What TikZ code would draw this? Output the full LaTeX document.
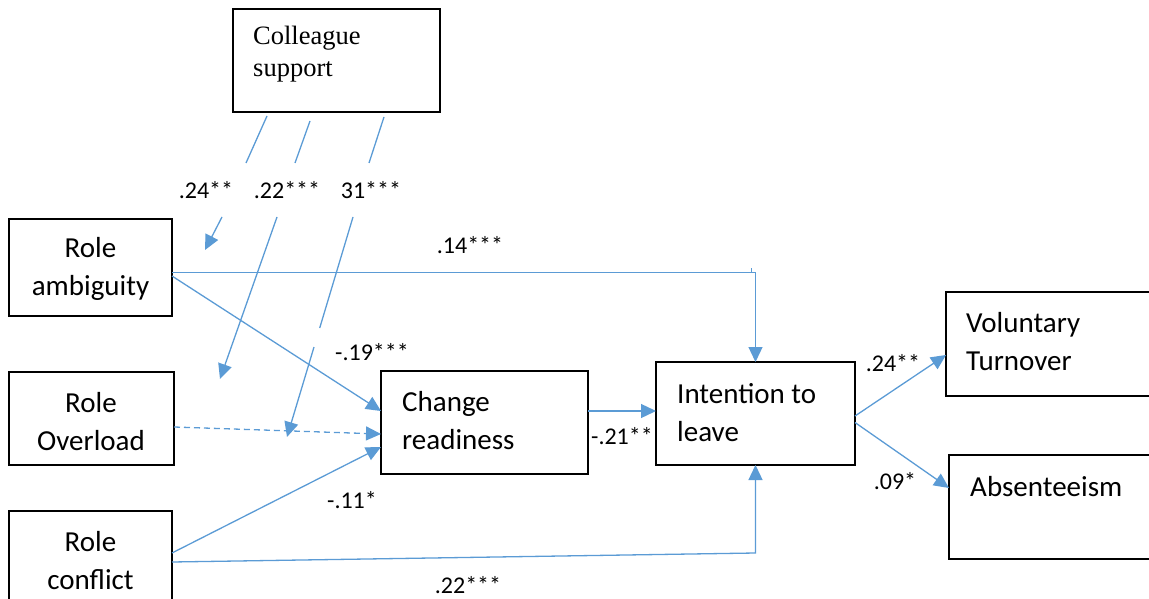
\documentclass[tikz,border=0pt]{standalone}
\usepackage{fontspec}
\setmainfont{Carlito}
\newfontfamily\tnr{Liberation Serif}
\usetikzlibrary{arrows.meta}
\definecolor{lineblue}{HTML}{5B9BD5}
\tikzset{
  box/.style={draw=black, line width=1.4pt, fill=none, inner sep=0pt, outer sep=0pt},
  txt/.style={inner sep=0pt, font=\fontsize{29}{38}\selectfont},
  lab/.style={inner sep=0pt, font=\fontsize{24}{28}\selectfont},
  edge/.style={draw=lineblue, line width=1.3pt},
  arr/.style={edge, -{Triangle[length=15pt,width=14pt]}},
}
\begin{document}
\begin{tikzpicture}[x=1pt,y=-1pt]
\useasboundingbox (0,0) rectangle (1149,599);
% boxes
\node[box, minimum width=207pt, minimum height=103pt] (cs) at (336.5,60.5) {};
\node[box, minimum width=163pt, minimum height=97pt] (ra) at (90.5,267.5) {};
\node[box, minimum width=165pt, minimum height=93pt] (ro) at (91.5,418.5) {};
\node[box, minimum width=163pt, minimum height=100pt] (rc) at (90.5,561) {};
\node[box, minimum width=207pt, minimum height=103pt] (cr) at (484.5,422.5) {};
\node[box, minimum width=199pt, minimum height=103pt] (il) at (755.5,413.5) {};
\node[box, minimum width=209pt, minimum height=104pt] (vt) at (1050.5,344) {};
\node[box, minimum width=206pt, minimum height=104pt] (ab) at (1052,507) {};
% texts
\node[inner sep=0pt, anchor=west, align=left, font=\tnr\fontsize{26.5}{32}\selectfont] (cst) at (253,54) {Colleague\\support};
\node[txt, align=center] (rat) at (90.5,269) {Role\\ambiguity};
\node[txt, align=center] (rot) at (91,421.5) {Role\\Overload};
\node[txt, align=center] (rct) at (90.5,561) {Role\\conflict};
\node[txt, anchor=west, align=left] (crt) at (402,420.5) {Change\\readiness};
\node[txt, anchor=west, align=left] (ilt) at (677,412.5) {Intention to\\leave};
\node[txt, anchor=west, align=left] (vtt) at (966,341.5) {Voluntary\\Turnover};
\node[txt, anchor=west, align=left] (abt) at (970,486.5) {Absenteeism};
% connectors
\draw[arr] ([yshift=-5pt]ra.east) -| (il.north);
\draw[edge] (751.5,268) -- (751.5,273);
\draw[arr] ([yshift=-8.5pt]ra.east) -- ([yshift=11.5pt]cr.west);
\draw[arr, dashed, dash pattern=on 6pt off 4pt] ([yshift=-8.5pt]ro.east) -- ([yshift=-11.5pt]cr.west);
\draw[arr] ([yshift=8pt]rc.east) -- ([yshift=-24.5pt]cr.west);
\draw[arr] ([yshift=-1pt]rc.east) -- ([yshift=8pt]rc.east -| il.south) -- (il.south);
\draw[arr] ([yshift=11.5pt]cr.east) -- ([yshift=11.5pt]cr.east -| il.west);
\draw[arr] ([yshift=-2.5pt]il.east) -- ([yshift=-11pt]vt.west);
\draw[arr] ([yshift=-9pt]il.east) -- ([yshift=19pt]ab.west);
% moderation lines from colleague support
\coordinate (m1a) at (267,116); \coordinate (m1b) at (246,163);
\coordinate (m2a) at (310,121); \coordinate (m2b) at (295,163);
\coordinate (m3a) at (384,117); \coordinate (m3b) at (369,163);
\draw[edge] (m1a) -- (m1b);
\draw[edge] (m2a) -- (m2b);
\draw[edge] (m3a) -- (m3b);
\coordinate (n1a) at (222,217); \coordinate (n1b) at (205,250);
\coordinate (n2a) at (277,217); \coordinate (n2b) at (220,379);
\coordinate (n3a) at (353,217); \coordinate (n3b) at (319.7,328);
\coordinate (n3c) at (314,347); \coordinate (n3d) at (287,437);
\draw[arr] (n1a) -- (n1b);
\draw[arr] (n2a) -- (n2b);
\draw[edge] (n3a) -- (n3b);
\draw[arr] (n3c) -- (n3d);
% labels
\node[lab] (l1) at (206,190) {.24**};
\node[lab] (l2) at (287,190) {.22***};
\node[lab] (l3) at (371,190) {31***};
\node[lab] (l4) at (470,245) {.14***};
\node[lab] (l5) at (372,352) {-.19***};
\node[lab] (l6) at (622,436) {-.21**};
\node[lab] (l7) at (352,500) {-.11*};
\node[lab] (l8) at (468,585) {.22***};
\node[lab] (l9) at (893,363) {.24**};
\node[lab] (l10) at (895,481) {.09*};
\end{tikzpicture}
\end{document}
